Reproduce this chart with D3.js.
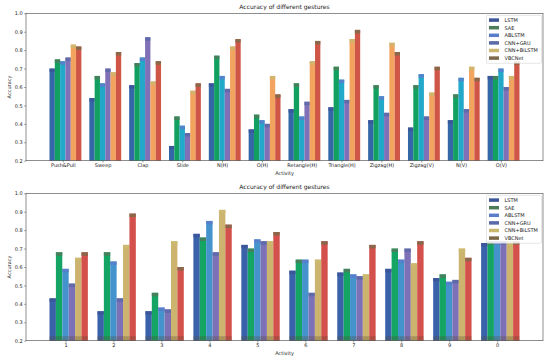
<!DOCTYPE html>
<html>
<head>
<meta charset="utf-8">
<script src="https://cdn.jsdelivr.net/npm/d3@7"></script>
<style>
  html, body { margin: 0; padding: 0; background: #fff; }
  svg { display: block; font-family: "DejaVu Sans", sans-serif; }
</style>
</head>
<body>
<div id="chart"></div>
<script>
// ---- data ----
const models = ["LSTM", "SAE", "ABLSTM", "CNN+GRU", "CNN+BiLSTM", "VBCNet"];

const gestures = ["Push&Pull", "Sweep", "Clap", "Slide", "N(H)", "O(H)",
  "Retangle(H)", "Triangle(H)", "Zigzag(H)", "Zigzag(V)", "N(V)", "O(V)"];
const gestureAcc = [
  [0.70, 0.54, 0.61, 0.28, 0.62, 0.37, 0.48, 0.49, 0.42, 0.38, 0.42, 0.66], // LSTM
  [0.75, 0.66, 0.73, 0.44, 0.77, 0.45, 0.62, 0.71, 0.61, 0.61, 0.56, 0.66], // SAE
  [0.74, 0.62, 0.76, 0.39, 0.66, 0.42, 0.44, 0.64, 0.55, 0.67, 0.65, 0.70], // ABLSTM
  [0.76, 0.70, 0.87, 0.35, 0.59, 0.40, 0.52, 0.53, 0.46, 0.44, 0.48, 0.60], // CNN+GRU
  [0.83, 0.68, 0.63, 0.58, 0.82, 0.66, 0.74, 0.86, 0.84, 0.57, 0.71, 0.66], // CNN+BiLSTM
  [0.82, 0.79, 0.74, 0.62, 0.86, 0.56, 0.85, 0.91, 0.79, 0.71, 0.65, 0.74]  // VBCNet
];

const digits = ["1", "2", "3", "4", "5", "6", "7", "8", "9", "0"];
const digitAcc = [
  [0.43, 0.36, 0.36, 0.78, 0.72, 0.58, 0.57, 0.59, 0.54, 0.73], // LSTM
  [0.68, 0.68, 0.46, 0.76, 0.70, 0.64, 0.59, 0.70, 0.56, 0.74], // SAE
  [0.59, 0.63, 0.38, 0.85, 0.75, 0.64, 0.56, 0.64, 0.52, 0.74], // ABLSTM
  [0.51, 0.43, 0.37, 0.68, 0.74, 0.46, 0.55, 0.70, 0.53, 0.74], // CNN+GRU
  [0.65, 0.72, 0.74, 0.91, 0.74, 0.64, 0.56, 0.62, 0.70, 0.74], // CNN+BiLSTM
  [0.68, 0.89, 0.60, 0.83, 0.79, 0.74, 0.72, 0.74, 0.65, 0.74]  // VBCNet
];

const yTicks = [0.2, 0.3, 0.4, 0.5, 0.6, 0.7, 0.8, 0.9, 1.0];

// ---- style ----
const legendColors = ["#3d5599", "#4e7b5a", "#5b7ccb", "#5a69a8", "#cbb870", "#7c6a4a"];
const topColors = ["#3467a8", "#12a060", "#22a8c8", "#8070b8", "#f2a35e", "#cf5646"];
const bottomColors = ["#3a62aa", "#14a464", "#4493cc", "#7c70b6", "#ccb46e", "#d4504c"];

const W = 550, H = 362;
const svg = d3.select("#chart").append("svg")
  .attr("width", W).attr("height", H);

const left = 26, right = 543;
const barW = 0.8 / models.length;
const capH = 3.5;

function panel(cats, values, colors, top, bottom, bottomBand) {
  const n = cats.length;
  // same auto margins as matplotlib (5% of data extent)
  const lo = -2.5 * barW, hi = (n - 1) + 3.5 * barW;
  const pad = 0.05 * (hi - lo);
  const x = d3.scaleLinear().domain([lo - pad, hi + pad]).range([left, right]);
  const y = d3.scaleLinear().domain([0.2, 1.0]).range([bottom, top]);
  const bw = x(barW) - x(0);

  const g = svg.append("g");

  // bars
  models.forEach((m, j) => {
    const sg = g.append("g");
    const data = values[j].map((v, i) => ({ i, v }));
    const bx = d => x(d.i + (j - 2) * barW - barW / 2);
    sg.selectAll("rect.bar")
      .data(data)
      .join("rect")
      .attr("class", "bar")
      .attr("x", bx)
      .attr("width", bw)
      .attr("y", d => y(d.v))
      .attr("height", d => y(0.2) - y(d.v))
      .attr("fill", colors[j]);
    // darker cap on top of each bar
    sg.selectAll("rect.cap")
      .data(data)
      .join("rect")
      .attr("class", "cap")
      .attr("x", bx)
      .attr("width", bw)
      .attr("y", d => y(d.v))
      .attr("height", capH)
      .attr("fill", legendColors[j])
      .attr("opacity", 0.85);
    if (bottomBand) {
      sg.selectAll("rect.band")
        .data(data)
        .join("rect")
        .attr("class", "band")
        .attr("x", bx)
        .attr("width", bw)
        .attr("y", y(0.2) - 4.5)
        .attr("height", 4.5)
        .attr("fill", "#5a4a30")
        .attr("opacity", 0.3);
    }
  });

  // axes
  const xAxis = d3.axisBottom(x)
    .tickValues(d3.range(n))
    .tickFormat(i => cats[i])
    .tickSize(1.75)
    .tickPadding(1.5)
    .tickSizeOuter(0);
  const xg = g.append("g").attr("transform", `translate(0,${bottom})`).call(xAxis);
  xg.select(".domain").remove();
  xg.selectAll("line").attr("stroke", "#333").attr("stroke-width", 0.5);
  xg.selectAll("text").attr("font-size", 5).attr("fill", "#222")
    .attr("font-family", "DejaVu Sans");

  const yAxis = d3.axisLeft(y)
    .tickValues(yTicks)
    .tickFormat(d3.format(".1f"))
    .tickSize(1.75)
    .tickPadding(1.5)
    .tickSizeOuter(0);
  const yg = g.append("g").attr("transform", `translate(${left},0)`).call(yAxis);
  yg.select(".domain").remove();
  yg.selectAll("line").attr("stroke", "#333").attr("stroke-width", 0.5);
  yg.selectAll("text").attr("font-size", 5).attr("fill", "#222")
    .attr("font-family", "DejaVu Sans");

  // frame
  g.append("rect")
    .attr("x", left).attr("y", top)
    .attr("width", right - left).attr("height", bottom - top)
    .attr("fill", "none").attr("stroke", "#444").attr("stroke-width", 0.6);

  // title + labels
  g.append("text")
    .attr("x", (left + right) / 2).attr("y", top - 4)
    .attr("text-anchor", "middle").attr("font-size", 6).attr("fill", "#222")
    .text("Accuracy of different gestures");
  g.append("text")
    .attr("x", (left + right) / 2).attr("y", bottom + 14)
    .attr("text-anchor", "middle").attr("font-size", 5).attr("fill", "#222")
    .text("Activity");
  g.append("text")
    .attr("transform", `translate(10.5,${(top + bottom) / 2}) rotate(-90)`)
    .attr("text-anchor", "middle").attr("font-size", 5).attr("fill", "#222")
    .text("Accuracy");

  // legend
  const lx = right - 56.5, ly = top + 2;
  const lg = g.append("g");
  lg.append("rect")
    .attr("x", lx).attr("y", ly).attr("width", 55).attr("height", 48)
    .attr("rx", 1.2)
    .attr("fill", "#fff").attr("fill-opacity", 0.85)
    .attr("stroke", "#ccc").attr("stroke-width", 0.5);
  models.forEach((m, j) => {
    const cy = ly + 4.8 + j * 7.6;
    lg.append("rect")
      .attr("x", lx + 2.5).attr("y", cy - 1.75)
      .attr("width", 10).attr("height", 3.5)
      .attr("fill", legendColors[j]);
    lg.append("text")
      .attr("x", lx + 18).attr("y", cy + 1.8)
      .attr("font-size", 5).attr("fill", "#222")
      .text(m);
  });
}

panel(gestures, gestureAcc, topColors, 13.3, 160.7, false);
panel(digits, digitAcc, bottomColors, 193.3, 340.7, true);
</script>
</body>
</html>
